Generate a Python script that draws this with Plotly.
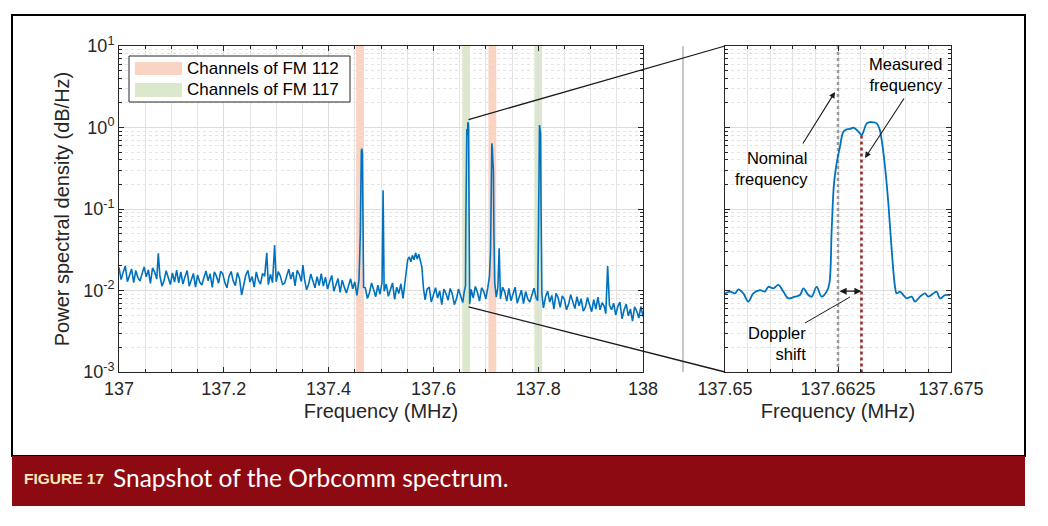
import math
import plotly.graph_objects as go

# the page body adds an 8px margin, so the figure is a little smaller and offset
OFF = 8
W, H = 1040, 518

# ---------------- data ----------------
left_freq = [
    137.000, 137.004, 137.008, 137.012, 137.016, 137.020, 137.024, 137.028, 137.032, 137.036,
    137.040, 137.044, 137.048, 137.052, 137.056, 137.060, 137.064, 137.068, 137.072, 137.075,
    137.078, 137.082, 137.086, 137.090, 137.094, 137.098, 137.102, 137.106, 137.110, 137.114,
    137.118, 137.122, 137.126, 137.130, 137.134, 137.138, 137.142, 137.146, 137.150, 137.154,
    137.158, 137.162, 137.166, 137.170, 137.174, 137.178, 137.182, 137.186, 137.190, 137.194,
    137.198, 137.202, 137.206, 137.210, 137.214, 137.218, 137.222, 137.226, 137.230, 137.234,
    137.238, 137.242, 137.246, 137.250, 137.254, 137.258, 137.262, 137.266, 137.270, 137.274,
    137.278, 137.282, 137.285, 137.289, 137.293, 137.297, 137.300, 137.304, 137.308, 137.312,
    137.316, 137.320, 137.324, 137.328, 137.332, 137.336, 137.340, 137.344, 137.348, 137.351,
    137.354, 137.358, 137.362, 137.366, 137.370, 137.374, 137.378, 137.382, 137.386, 137.390,
    137.394, 137.398, 137.402, 137.406, 137.410, 137.414, 137.418, 137.422, 137.426, 137.430,
    137.434, 137.438, 137.442, 137.446, 137.450, 137.454, 137.458, 137.4605, 137.4615, 137.4625,
    137.4635, 137.4645, 137.4655, 137.4668, 137.470, 137.474, 137.478, 137.482, 137.486, 137.490,
    137.494, 137.498, 137.502, 137.504, 137.506, 137.510, 137.514, 137.518, 137.522, 137.526,
    137.530, 137.534, 137.538, 137.542, 137.545, 137.548, 137.551, 137.554, 137.557, 137.560,
    137.563, 137.566, 137.569, 137.572, 137.575, 137.578, 137.581, 137.584, 137.588, 137.592,
    137.596, 137.600, 137.604, 137.608, 137.612, 137.616, 137.620, 137.624, 137.628, 137.632,
    137.636, 137.640, 137.644, 137.648, 137.652, 137.656, 137.659, 137.6613, 137.6618, 137.6621,
    137.6624, 137.6627, 137.6631, 137.6638, 137.6645, 137.6651, 137.6657, 137.6664, 137.6671, 137.6673,
    137.6677, 137.6681, 137.6684, 137.6688, 137.6692, 137.672, 137.676, 137.680, 137.684, 137.688,
    137.692, 137.696, 137.700, 137.704, 137.707, 137.709, 137.7105, 137.7115, 137.7125, 137.7135,
    137.7145, 137.7155, 137.717, 137.720, 137.723, 137.7255, 137.728, 137.732, 137.736, 137.740,
    137.744, 137.748, 137.752, 137.756, 137.760, 137.764, 137.768, 137.772, 137.776, 137.780,
    137.784, 137.788, 137.792, 137.796, 137.799, 137.8005, 137.8015, 137.8025, 137.8035, 137.8045,
    137.8055, 137.807, 137.810, 137.814, 137.818, 137.822, 137.826, 137.830, 137.834, 137.838,
    137.842, 137.846, 137.850, 137.854, 137.858, 137.862, 137.866, 137.870, 137.874, 137.878,
    137.882, 137.886, 137.890, 137.894, 137.898, 137.902, 137.906, 137.910, 137.914, 137.918,
    137.922, 137.926, 137.929, 137.9325, 137.936, 137.940, 137.944, 137.948, 137.952, 137.956,
    137.960, 137.964, 137.968, 137.972, 137.976, 137.980, 137.984, 137.988, 137.992, 137.996,
    138.000,
]
left_psd = [
    0.0192, 0.0136, 0.0168, 0.0200, 0.0128, 0.0152, 0.0184, 0.0125, 0.0176, 0.0144,
    0.0131, 0.0160, 0.0195, 0.0147, 0.0179, 0.0122, 0.0189, 0.0168, 0.0138, 0.0286,
    0.0152, 0.0113, 0.0133, 0.0175, 0.0144, 0.0118, 0.0164, 0.0127, 0.0178, 0.0124,
    0.0169, 0.0120, 0.0148, 0.0176, 0.0113, 0.0134, 0.0162, 0.0110, 0.0155, 0.0127,
    0.0117, 0.0143, 0.0174, 0.0132, 0.0160, 0.0109, 0.0169, 0.0150, 0.0123, 0.0172,
    0.0160, 0.0125, 0.0108, 0.0150, 0.0171, 0.0131, 0.0115, 0.0166, 0.0140, 0.0088,
    0.0113, 0.0155, 0.0176, 0.0127, 0.0148, 0.0110, 0.0169, 0.0134, 0.0120, 0.0162,
    0.0150, 0.0290, 0.0118, 0.0158, 0.0125, 0.0360, 0.0128, 0.0171, 0.0150, 0.0119,
    0.0123, 0.0150, 0.0183, 0.0138, 0.0168, 0.0114, 0.0177, 0.0158, 0.0129, 0.0205,
    0.0138, 0.0102, 0.0120, 0.0159, 0.0131, 0.0108, 0.0148, 0.0115, 0.0161, 0.0113,
    0.0146, 0.0104, 0.0128, 0.0153, 0.0098, 0.0116, 0.0140, 0.0095, 0.0134, 0.0110,
    0.0093, 0.0114, 0.0139, 0.0105, 0.0128, 0.0087, 0.0135, 0.05, 0.40, 0.52,
    0.55, 0.47, 0.09, 0.0110, 0.0108, 0.0080, 0.0094, 0.0124, 0.0102, 0.0084,
    0.0116, 0.0090, 0.0126, 0.170, 0.0098, 0.0120, 0.0085, 0.0105, 0.0124, 0.0078,
    0.0110, 0.0092, 0.0121, 0.0080, 0.0112, 0.0180, 0.0240, 0.0258, 0.0225, 0.0270,
    0.0238, 0.0290, 0.0243, 0.0279, 0.0232, 0.0195, 0.0108, 0.0077, 0.0104, 0.0110,
    0.0072, 0.0092, 0.0108, 0.0081, 0.0099, 0.0067, 0.0104, 0.0092, 0.0076, 0.0106,
    0.0091, 0.0067, 0.0079, 0.0104, 0.0086, 0.0071, 0.0098, 0.0115, 0.055, 0.21,
    0.36, 0.58, 0.89, 0.96, 0.85, 0.80, 1.13, 1.16, 0.98, 0.70,
    0.33, 0.118, 0.031, 0.0090, 0.0068, 0.0103, 0.0081, 0.0112, 0.0095, 0.0074,
    0.0108, 0.0098, 0.0079, 0.0110, 0.0150, 0.030, 0.20, 0.64, 0.55, 0.38,
    0.30, 0.05, 0.0125, 0.0083, 0.0108, 0.033, 0.0079, 0.0110, 0.0097, 0.0074,
    0.0106, 0.0075, 0.0092, 0.0110, 0.0070, 0.0084, 0.0101, 0.0069, 0.0097, 0.0079,
    0.0072, 0.0088, 0.0107, 0.0081, 0.0075, 0.05, 0.80, 1.07, 0.95, 0.85,
    0.10, 0.0090, 0.0061, 0.0084, 0.0098, 0.0072, 0.0087, 0.0059, 0.0092, 0.0082,
    0.0062, 0.0086, 0.0078, 0.0058, 0.0068, 0.0089, 0.0073, 0.0060, 0.0084, 0.0065,
    0.0079, 0.0056, 0.0062, 0.0082, 0.0067, 0.0055, 0.0077, 0.0059, 0.0083, 0.0058,
    0.0071, 0.0064, 0.0052, 0.0200, 0.0066, 0.0058, 0.0070, 0.0050, 0.0064, 0.0072,
    0.0045, 0.0058, 0.0068, 0.0049, 0.0059, 0.0042, 0.0063, 0.0056, 0.0046, 0.0064,
    0.0048,
]
assert len(left_freq) == len(left_psd)

zoom_freq = [
    137.65000, 137.65055, 137.65111, 137.65147, 137.65203, 137.65258, 137.65313, 137.65387, 137.65442, 137.65479,
    137.65535, 137.65590, 137.65645, 137.65701, 137.65774, 137.65830, 137.65867, 137.65922, 137.65959, 137.66014,
    137.66069, 137.66125, 137.66155, 137.66180, 137.66206, 137.66235, 137.66272, 137.66309, 137.66346, 137.66383,
    137.66420, 137.66457, 137.66493, 137.66512, 137.66538, 137.66567, 137.66604, 137.66641, 137.66678, 137.66707,
    137.66733, 137.66770, 137.66807, 137.66844, 137.66881, 137.66899, 137.66936, 137.66973, 137.67010, 137.67065,
    137.67102, 137.67157, 137.67212, 137.67249, 137.67304, 137.67341, 137.67378, 137.67434, 137.67489,
]
zoom_psd = [
    0.0092, 0.0097, 0.0092, 0.0103, 0.0092, 0.0073, 0.0092, 0.0101, 0.0097, 0.0111,
    0.0106, 0.0117, 0.0097, 0.0080, 0.0084, 0.0088, 0.0106, 0.0088, 0.0084, 0.0111,
    0.0084, 0.0097, 0.0123, 0.055, 0.207, 0.363, 0.582, 0.889, 0.951, 0.959,
    0.995, 0.932, 0.848, 0.802, 0.932, 1.125, 1.167, 1.157, 1.125, 0.977,
    0.703, 0.330, 0.1175, 0.0314, 0.0111, 0.0092, 0.0097, 0.0088, 0.0080, 0.0084,
    0.0073, 0.0084, 0.0092, 0.0084, 0.0092, 0.0097, 0.0080, 0.0088, 0.0088,
]
assert len(zoom_freq) == len(zoom_psd)

fm112_channels = [137.4600, 137.7125]
fm117_channels = [137.6625, 137.8000]
channel_halfwidth = 0.0075

nominal_freq = 137.6625
measured_freq = 137.6651
measured_level = 0.80
doppler_level = 0.0098

left_xrange = [137.0, 138.0]
zoom_xrange = [137.65, 137.675]
y_log_range = [-3, 1]
left_xticks = [137.0, 137.2, 137.4, 137.6, 137.8, 138.0]
left_xticktext = ["137", "137.2", "137.4", "137.6", "137.8", "138"]
zoom_xticks = [137.65, 137.6625, 137.675]
zoom_xticktext = ["137.65", "137.6625", "137.675"]
y_ticks = [0.001, 0.01, 0.1, 1, 10]
y_ticktext = ["10<sup>-3</sup>", "10<sup>-2</sup>", "10<sup>-1</sup>", "10<sup>0</sup>", "10<sup>1</sup>"]

# connector anchor in the left panel (frequency, level at top and bottom)
conn_freq = 137.667
conn_top = 1.25
conn_bottom = 0.0063

# ---------------- layout helpers (page pixel -> paper) ----------------
def PX(x):
    return (x - OFF) / W


def PY(y):
    return 1 - (y - OFF) / H


XD1 = [PX(119), PX(643)]
XD2 = [PX(725), PX(951)]
YD = [PY(372), PY(46)]


def left_paper(f, v):
    x = XD1[0] + (f - left_xrange[0]) / (left_xrange[1] - left_xrange[0]) * (XD1[1] - XD1[0])
    y = YD[0] + (math.log10(v) - y_log_range[0]) / (y_log_range[1] - y_log_range[0]) * (YD[1] - YD[0])
    return x, y


BLUE = "#0072BD"
AXC = "#262626"
FONT = "Liberation Sans, Arial, Helvetica, sans-serif"

fig = go.Figure()

fig.add_trace(go.Scatter(x=left_freq, y=left_psd, mode="lines",
                         line=dict(color=BLUE, width=1.6), xaxis="x", yaxis="y",
                         hoverinfo="skip"))

fig.add_trace(go.Scatter(x=[nominal_freq, nominal_freq], y=[10 ** y_log_range[1], 10 ** y_log_range[0]],
                         mode="lines", line=dict(color="#9a9a9a", width=2.5, dash="dot"),
                         xaxis="x2", yaxis="y2", hoverinfo="skip"))
fig.add_trace(go.Scatter(x=[measured_freq, measured_freq], y=[measured_level, 10 ** y_log_range[0]],
                         mode="lines", line=dict(color="#a31f1f", width=2.5, dash="dot"),
                         xaxis="x2", yaxis="y2", hoverinfo="skip"))
fig.add_trace(go.Scatter(x=zoom_freq, y=zoom_psd, mode="lines", line_shape="spline",
                         line=dict(color=BLUE, width=1.8), xaxis="x2", yaxis="y2",
                         hoverinfo="skip"))

shapes = []
# channel bands
for f in fm112_channels:
    shapes.append(dict(type="rect", xref="x", yref="y domain", x0=f - channel_halfwidth,
                       x1=f + channel_halfwidth, y0=0, y1=1, fillcolor="#fbd3c3",
                       line=dict(width=0), layer="below"))
for f in fm117_channels:
    shapes.append(dict(type="rect", xref="x", yref="y domain", x0=f - channel_halfwidth,
                       x1=f + channel_halfwidth, y0=0, y1=1, fillcolor="#dbe8cb",
                       line=dict(width=0), layer="below"))

# outer frame and caption bar
shapes.append(dict(type="rect", xref="paper", yref="paper", x0=PX(12), x1=PX(1025),
                   y0=PY(456), y1=PY(15), line=dict(color="black", width=2), fillcolor="rgba(0,0,0,0)"))
shapes.append(dict(type="rect", xref="paper", yref="paper", x0=PX(12), x1=PX(1025),
                   y0=PY(506), y1=PY(456), line=dict(width=0), fillcolor="#8e0a12"))

# legend box
shapes.append(dict(type="rect", xref="paper", yref="paper", x0=PX(129), x1=PX(350),
                   y0=PY(102), y1=PY(56), line=dict(color=AXC, width=1), fillcolor="white"))
shapes.append(dict(type="rect", xref="paper", yref="paper", x0=PX(135), x1=PX(182),
                   y0=PY(75), y1=PY(62), line=dict(width=0), fillcolor="#fbd3c3"))
shapes.append(dict(type="rect", xref="paper", yref="paper", x0=PX(135), x1=PX(182),
                   y0=PY(97), y1=PY(83), line=dict(width=0), fillcolor="#dbe8cb"))

# separator line
shapes.append(dict(type="line", xref="paper", yref="paper", x0=PX(683), x1=PX(683),
                   y0=YD[0], y1=YD[1], line=dict(color="#b5b5b5", width=1.5)))

# zoom connectors
cx, cyt = left_paper(conn_freq, conn_top)
_, cyb = left_paper(conn_freq, conn_bottom)
shapes.append(dict(type="line", xref="paper", yref="paper", x0=cx, y0=cyt, x1=XD2[0], y1=YD[1],
                   line=dict(color="#1a1a1a", width=1.3)))
shapes.append(dict(type="line", xref="paper", yref="paper", x0=cx, y0=cyb, x1=XD2[0], y1=YD[0],
                   line=dict(color="#1a1a1a", width=1.3)))

# doppler pointer line
shapes.append(dict(type="line", xref="paper", yref="paper", x0=PX(805), y0=PY(323),
                   x1=PX(850), y1=PY(297), line=dict(color="#1a1a1a", width=1)))

annotations = []
annotations.append(dict(text="Channels of FM 112", x=PX(185), y=PY(68.5), xref="paper", yref="paper",
                        xanchor="left", yanchor="middle", showarrow=False,
                        font=dict(size=17, color="black", family=FONT)))
annotations.append(dict(text="Channels of FM 117", x=PX(185), y=PY(89.5), xref="paper", yref="paper",
                        xanchor="left", yanchor="middle", showarrow=False,
                        font=dict(size=17, color="black", family=FONT)))

ann_font = dict(size=16.5, color="black", family=FONT)
annotations.append(dict(text="Measured<br>frequency", x=PX(906), y=PY(75), xref="paper", yref="paper",
                        xanchor="center", yanchor="middle", showarrow=False, align="center",
                        font=ann_font))
annotations.append(dict(text="Nominal<br>frequency", x=PX(810), y=PY(168), xref="paper", yref="paper",
                        xanchor="right", yanchor="middle", showarrow=False, align="right",
                        font=ann_font))
annotations.append(dict(text="Doppler<br>shift", x=PX(808), y=PY(343), xref="paper", yref="paper",
                        xanchor="right", yanchor="middle", showarrow=False, align="right",
                        font=ann_font))
# arrows
annotations.append(dict(text="", x=PX(865), y=PY(158), xref="paper", yref="paper",
                        ax=40, ay=-61, showarrow=True, arrowhead=2, arrowsize=1.1,
                        arrowwidth=1.1, arrowcolor="#1a1a1a"))
annotations.append(dict(text="", x=PX(835), y=PY(92), xref="paper", yref="paper",
                        ax=-33, ay=53, showarrow=True, arrowhead=2, arrowsize=1.1,
                        arrowwidth=1.1, arrowcolor="#1a1a1a"))
annotations.append(dict(text="", x=measured_freq, y=math.log10(doppler_level), xref="x2", yref="y2",
                        ax=nominal_freq, ay=math.log10(doppler_level), axref="x2", ayref="y2",
                        showarrow=True, arrowhead=2, arrowside="end+start", arrowsize=1.1,
                        arrowwidth=1.3, arrowcolor="#1a1a1a"))

# caption
annotations.append(dict(text="<b>FIGURE 17</b>", x=PX(22), y=PY(478), xref="paper", yref="paper",
                        xanchor="left", yanchor="middle", showarrow=False,
                        font=dict(size=15.5, color="#f6e9bd", family=FONT)))
annotations.append(dict(text="Snapshot of the Orbcomm spectrum.", x=PX(111), y=PY(477), xref="paper",
                        yref="paper", xanchor="left", yanchor="middle", showarrow=False,
                        font=dict(size=24.5, color="white", family="Lato, Open Sans, sans-serif")))

grid_major = "#dcdcdc"
grid_minor = "#e4e4e4"

common_axis = dict(showline=True, linecolor=AXC, linewidth=1, mirror="ticks", ticks="inside",
                   ticklen=5, tickcolor=AXC, tickfont=dict(size=18, color=AXC, family=FONT),
                   showgrid=True, gridcolor=grid_major, gridwidth=1, zeroline=False,
                   automargin=False)

fig.update_layout(
    width=W, height=H, margin=dict(l=0, r=0, t=0, b=0, autoexpand=False),
    paper_bgcolor="white", plot_bgcolor="white", showlegend=False,
    font=dict(family=FONT, color=AXC),
    xaxis=dict(domain=XD1, range=left_xrange, tickvals=left_xticks, ticktext=left_xticktext,
               title=dict(text="Frequency (MHz)", font=dict(size=20, color=AXC, family=FONT), standoff=6),
               minor=dict(dtick=0.05, showgrid=True, gridcolor=grid_minor, ticks="inside", ticklen=3,
                          tickcolor=AXC),
               anchor="y", **common_axis),
    yaxis=dict(domain=YD, type="log", range=y_log_range, tickvals=y_ticks, ticktext=y_ticktext,
               title=dict(text="Power spectral density (dB/Hz)", font=dict(size=20, color=AXC, family=FONT),
                          standoff=8),
               minor=dict(dtick="D1", showgrid=True, gridcolor=grid_minor, griddash="dot",
                          ticks="inside", ticklen=3, tickcolor=AXC),
               anchor="x", **common_axis),
    xaxis2=dict(domain=XD2, range=zoom_xrange, tickvals=zoom_xticks, ticktext=zoom_xticktext,
                title=dict(text="Frequency (MHz)", font=dict(size=20, color=AXC, family=FONT), standoff=6),
                minor=dict(dtick=0.0025, showgrid=True, gridcolor=grid_minor, ticks="inside", ticklen=3,
                           tickcolor=AXC),
                anchor="y2", **common_axis),
    yaxis2=dict(domain=YD, type="log", range=y_log_range, tickvals=y_ticks, showticklabels=False,
                minor=dict(dtick="D1", showgrid=True, gridcolor=grid_minor, griddash="dot",
                           ticks="inside", ticklen=3, tickcolor=AXC),
                anchor="x2", **common_axis),
    shapes=shapes,
    annotations=annotations,
)

fig.write_html("out.html")
